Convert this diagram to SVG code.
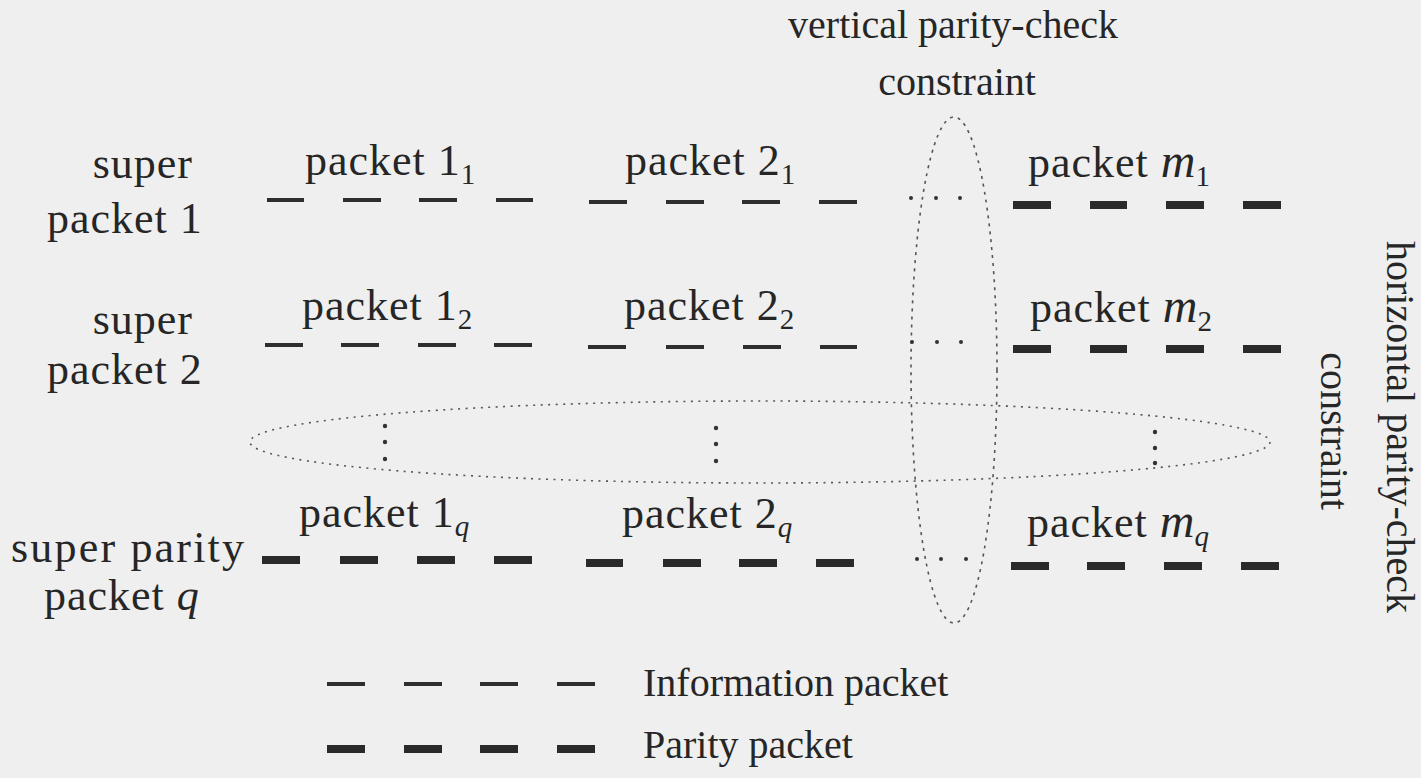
<svg xmlns="http://www.w3.org/2000/svg" width="1421" height="778" viewBox="0 0 1421 778">
<style>
.bg{fill:#efefef}
.t{font-family:"Liberation Serif","Times New Roman",serif;font-size:44px;fill:#262626;letter-spacing:1px}
.tt{font-family:"Liberation Serif","Times New Roman",serif;font-size:40px;fill:#262626}
.sub{font-size:29px;letter-spacing:0}
.it{font-style:italic}
.m{font-size:48px;font-style:italic;letter-spacing:0}
.info{stroke:#2e2e2e;stroke-width:4}
.par{stroke:#2a2a2a;stroke-width:8}
.dot{fill:#333}
.ell{fill:none;stroke:#555;stroke-width:1.6}
</style>
<rect class="bg" x="0" y="0" width="1421" height="778"/>

<g id="label-vertical">
<text class="tt" x="953" y="38" text-anchor="middle">vertical parity-check</text>
<text class="tt" x="957" y="95" text-anchor="middle">constraint</text>
</g>
<g id="label-horizontal">
<text class="tt" text-anchor="middle" transform="translate(1387,427) rotate(90)">horizontal parity-check</text>
<text class="tt" text-anchor="middle" transform="translate(1321,431) rotate(90)">constraint</text>
</g>

<g id="constraints">
<ellipse class="ell" cx="954" cy="370" rx="43" ry="253" stroke-dasharray="3 5"/>
<ellipse class="ell" cx="760" cy="442" rx="510" ry="41" stroke-dasharray="2 5.5"/>
</g>

<g id="row1-label">
<text class="t" x="193" y="178" text-anchor="end">super</text>
<text class="t" x="47" y="233">packet 1</text>
</g>
<g id="row2-label">
<text class="t" x="193" y="334" text-anchor="end">super</text>
<text class="t" x="47" y="384">packet 2</text>
</g>
<g id="rowq-label">
<text class="t" x="11" y="562" textLength="234">super parity</text>
<text class="t" x="44" y="610">packet <tspan class="it">q</tspan></text>
</g>

<g id="packet-1-1">
<text class="t" x="305" y="175">packet 1<tspan class="sub" dy="9">1</tspan></text>
<line class="info" x1="267" y1="200" x2="304" y2="200"/>
<line class="info" x1="343" y1="200" x2="381" y2="200"/>
<line class="info" x1="419" y1="200" x2="457" y2="200"/>
<line class="info" x1="496" y1="200" x2="533" y2="200"/>
</g>
<g id="packet-2-1">
<text class="t" x="625" y="175">packet 2<tspan class="sub" dy="9">1</tspan></text>
<line class="info" x1="589" y1="202" x2="627" y2="202"/>
<line class="info" x1="666" y1="202" x2="704" y2="202"/>
<line class="info" x1="742" y1="202" x2="780" y2="202"/>
<line class="info" x1="819" y1="202" x2="857" y2="202"/>
</g>
<g id="dots-1">
<circle class="dot" cx="911" cy="198" r="2"/><circle class="dot" cx="936" cy="198" r="2"/><circle class="dot" cx="960" cy="198" r="2"/>
</g>
<g id="packet-m-1">
<text class="t" x="1028" y="177">packet <tspan class="m">m</tspan><tspan class="sub" dy="9">1</tspan></text>
<line class="par" x1="1013" y1="205" x2="1051" y2="205"/>
<line class="par" x1="1090" y1="205" x2="1127" y2="205"/>
<line class="par" x1="1166" y1="205" x2="1204" y2="205"/>
<line class="par" x1="1243" y1="205" x2="1281" y2="205"/>
</g>

<g id="packet-1-2">
<text class="t" x="302" y="320">packet 1<tspan class="sub" dy="9">2</tspan></text>
<line class="info" x1="265" y1="345" x2="303" y2="345"/>
<line class="info" x1="341" y1="345" x2="379" y2="345"/>
<line class="info" x1="418" y1="345" x2="456" y2="345"/>
<line class="info" x1="494" y1="345" x2="532" y2="345"/>
</g>
<g id="packet-2-2">
<text class="t" x="624" y="320">packet 2<tspan class="sub" dy="9">2</tspan></text>
<line class="info" x1="588" y1="347" x2="626" y2="347"/>
<line class="info" x1="666" y1="347" x2="704" y2="347"/>
<line class="info" x1="743" y1="347" x2="781" y2="347"/>
<line class="info" x1="820" y1="347" x2="857" y2="347"/>
</g>
<g id="dots-2">
<circle class="dot" cx="912" cy="342" r="2"/><circle class="dot" cx="937" cy="342" r="2"/><circle class="dot" cx="961" cy="342" r="2"/>
</g>
<g id="packet-m-2">
<text class="t" x="1030" y="322">packet <tspan class="m">m</tspan><tspan class="sub" dy="9">2</tspan></text>
<line class="par" x1="1013" y1="349" x2="1051" y2="349"/>
<line class="par" x1="1090" y1="349" x2="1127" y2="349"/>
<line class="par" x1="1166" y1="349" x2="1204" y2="349"/>
<line class="par" x1="1243" y1="349" x2="1281" y2="349"/>
</g>

<g id="vdots">
<circle class="dot" cx="385" cy="426" r="2.2"/><circle class="dot" cx="385" cy="442" r="2.2"/><circle class="dot" cx="385" cy="459" r="2.2"/>
<circle class="dot" cx="716" cy="428" r="2.2"/><circle class="dot" cx="716" cy="444" r="2.2"/><circle class="dot" cx="716" cy="461" r="2.2"/>
<circle class="dot" cx="1155" cy="432" r="2.2"/><circle class="dot" cx="1155" cy="448" r="2.2"/><circle class="dot" cx="1155" cy="463" r="2.2"/>
</g>

<g id="packet-1-q">
<text class="t" x="299" y="527">packet 1<tspan class="sub it" dy="9">q</tspan></text>
<line class="par" x1="262" y1="560" x2="300" y2="560"/>
<line class="par" x1="340" y1="560" x2="378" y2="560"/>
<line class="par" x1="417" y1="560" x2="455" y2="560"/>
<line class="par" x1="494" y1="560" x2="532" y2="560"/>
</g>
<g id="packet-2-q">
<text class="t" x="622" y="528">packet 2<tspan class="sub it" dy="9">q</tspan></text>
<line class="par" x1="586" y1="563" x2="623" y2="563"/>
<line class="par" x1="663" y1="563" x2="701" y2="563"/>
<line class="par" x1="739" y1="563" x2="777" y2="563"/>
<line class="par" x1="816" y1="563" x2="854" y2="563"/>
</g>
<g id="dots-q">
<circle class="dot" cx="917" cy="559" r="2"/><circle class="dot" cx="941" cy="559" r="2"/><circle class="dot" cx="966" cy="559" r="2"/>
</g>
<g id="packet-m-q">
<text class="t" x="1027" y="537">packet <tspan class="m">m</tspan><tspan class="sub it" dy="9">q</tspan></text>
<line class="par" x1="1011" y1="566" x2="1049" y2="566"/>
<line class="par" x1="1087" y1="566" x2="1125" y2="566"/>
<line class="par" x1="1164" y1="566" x2="1202" y2="566"/>
<line class="par" x1="1241" y1="566" x2="1279" y2="566"/>
</g>

<g id="legend-info">
<line class="info" x1="327" y1="684" x2="365" y2="684"/>
<line class="info" x1="404" y1="684" x2="442" y2="684"/>
<line class="info" x1="480" y1="684" x2="518" y2="684"/>
<line class="info" x1="557" y1="684" x2="595" y2="684"/>
<text class="tt" x="643" y="696">Information packet</text>
</g>
<g id="legend-parity">
<line class="par" x1="327" y1="749" x2="365" y2="749"/>
<line class="par" x1="404" y1="749" x2="442" y2="749"/>
<line class="par" x1="480" y1="749" x2="518" y2="749"/>
<line class="par" x1="557" y1="749" x2="595" y2="749"/>
<text class="tt" x="643" y="758">Parity packet</text>
</g>
</svg>
